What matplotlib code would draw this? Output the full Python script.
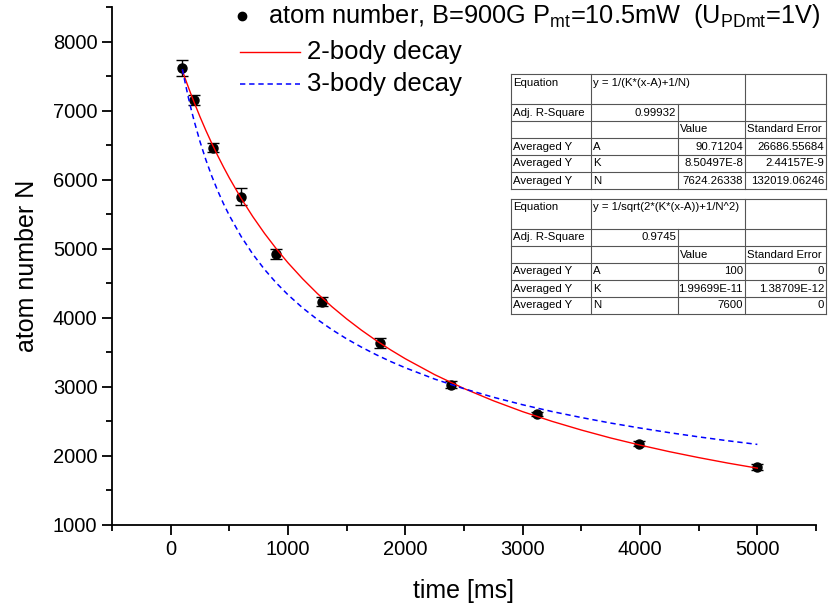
import numpy as np
import matplotlib
matplotlib.use("Agg")
import matplotlib.pyplot as plt
from matplotlib.lines import Line2D

plt.rcParams['font.family'] = ['Liberation Sans', 'DejaVu Sans']
plt.rcParams['mathtext.fontset'] = 'custom'
plt.rcParams['mathtext.rm'] = 'Liberation Sans'
plt.rcParams['mathtext.it'] = 'Liberation Sans'

# measured atom number
t_ms = [100, 200, 360, 600, 900, 1290, 1780, 2390, 3120, 3990, 5000]
atoms = [7620, 7155, 6465, 5755, 4926, 4236, 3634, 3030, 2611, 2177, 1834]
atoms_err = [116, 72, 65, 120, 72, 58, 72, 48, 30, 36, 43]

# fit curves
t_fit = [100, 125, 150, 175, 200, 250, 300, 350, 400, 450, 500, 600, 700, 800,
         900, 1000, 1125, 1250, 1375, 1500, 1625, 1750, 1875, 2000, 2250, 2500,
         2750, 3000, 3250, 3500, 3750, 4000, 4250, 4500, 4750, 5000]
fit_2body = [7579, 7458, 7342, 7229, 7120, 6910, 6713, 6527, 6351, 6184, 6025,
             5731, 5465, 5222, 5000, 4796, 4564, 4352, 4160, 3984, 3822, 3673,
             3535, 3407, 3177, 2976, 2799, 2641, 2501, 2375, 2260, 2157, 2062,
             1976, 1896, 1823]
fit_3body = [7600, 7390, 7196, 7017, 6851, 6551, 6287, 6053, 5843, 5653, 5481,
             5179, 4922, 4700, 4505, 4333, 4143, 3976, 3828, 3695, 3576, 3467,
             3367, 3276, 3113, 2973, 2850, 2741, 2643, 2556, 2476, 2404, 2337,
             2276, 2219, 2167]

# fit result tables
table1 = [["Equation", "y = 1/(K*(x-A)+1/N)", "", ""],
          ["Adj. R-Square", "0.99932", "", ""],
          ["", "", "Value", "Standard Error"],
          ["Averaged Y", "A", "90.71204", "26686.55684"],
          ["Averaged Y", "K", "8.50497E-8", "2.44157E-9"],
          ["Averaged Y", "N", "7624.26338", "132019.06246"]]
table2 = [["Equation", "y = 1/sqrt(2*(K*(x-A))+1/N^2)", "", ""],
          ["Adj. R-Square", "0.9745", "", ""],
          ["", "", "Value", "Standard Error"],
          ["Averaged Y", "A", "100", "0"],
          ["Averaged Y", "K", "1.99699E-11", "1.38709E-12"],
          ["Averaged Y", "N", "7600", "0"]]

W, H = 829, 612
fig = plt.figure(figsize=(W / 100, H / 100), dpi=100)
ax = fig.add_axes([112 / W, 1 - 525 / H, (816 - 112) / W, (525 - 7) / H])

ax.errorbar(t_ms, atoms, yerr=atoms_err, fmt='o', color='black', ms=6.5,
            ecolor='black', elinewidth=1, capsize=4, capthick=1, zorder=2)
ax.plot(t_fit, fit_2body, color='#ff0000', lw=1.0, zorder=3)
ax.plot(t_fit, fit_3body, color='#0000ff', lw=1.1, ls=(0, (3.5, 2.5)), zorder=3)

ax.set_xlim(-500, 5500)
ax.set_ylim(1000, 8500)
ax.set_xticks([0, 1000, 2000, 3000, 4000, 5000])
ax.set_xticks(np.arange(-500, 5501, 1000), minor=True)
ax.set_yticks(np.arange(1000, 8001, 1000))
ax.set_yticks(np.arange(1500, 8501, 1000), minor=True)
for s in ['top', 'right']:
    ax.spines[s].set_visible(False)
for s in ['left', 'bottom']:
    ax.spines[s].set_linewidth(1.3)
ax.tick_params(which='major', length=7, width=1.3, labelsize=14.5, direction='out')
ax.tick_params(which='minor', length=4, width=1.3, direction='out')
ax.set_xlabel('time [ms]', fontsize=18, labelpad=15)
ax.set_ylabel('atom number N', fontsize=18, labelpad=10)


def fx(px):
    return px / W


def fy(py):
    return 1 - py / H


# legend
fig.add_artist(Line2D([fx(242)], [fy(16)], marker='o', color='black', ms=6, ls='none'))
fig.text(fx(268), fy(16),
         r'atom number, B=900G P$_{\mathrm{mt}}$=10.5mW  (U$_{\mathrm{PDmt}}$=1V)',
         fontsize=18.3, va='center', ha='left')
fig.add_artist(Line2D([fx(240), fx(300)], [fy(52), fy(52)], color='#ff0000', lw=1.0))
fig.text(fx(307), fy(52), '2-body decay', fontsize=18.5, va='center', ha='left')
fig.add_artist(Line2D([fx(240), fx(300)], [fy(84), fy(84)], color='#0000ff', lw=1.1,
                      ls=(0, (3.5, 2.5))))
fig.text(fx(307), fy(84), '3-body decay', fontsize=18.5, va='center', ha='left')


def draw_table(rows, top):
    cols = [511, 591, 678, 745, 826]
    heights = [30, 17, 17, 17, 17, 17]
    edges = [top]
    for h in heights:
        edges.append(edges[-1] + h)
    lc = '#555555'
    for y in edges:
        fig.add_artist(Line2D([fx(cols[0]), fx(cols[-1])], [fy(y), fy(y)], color=lc, lw=0.8))
    for i, x in enumerate(cols):
        y0 = edges[1] if i == 2 else edges[0]
        fig.add_artist(Line2D([fx(x), fx(x)], [fy(y0), fy(edges[-1])], color=lc, lw=0.8))
    for r, row in enumerate(rows):
        yc = edges[r] + 8.5
        for c, txt in enumerate(row):
            if not txt:
                continue
            right = (r == 1 and c == 1) or (r >= 3 and c >= 2)
            if right:
                fig.text(fx(cols[c + 1] - 2), fy(yc), txt, fontsize=8.2, ha='right', va='center')
            else:
                fig.text(fx(cols[c] + 2), fy(yc), txt, fontsize=8.2, ha='left', va='center')


draw_table(table1, 74)
draw_table(table2, 199)

fig.savefig('out.png', dpi=100)
